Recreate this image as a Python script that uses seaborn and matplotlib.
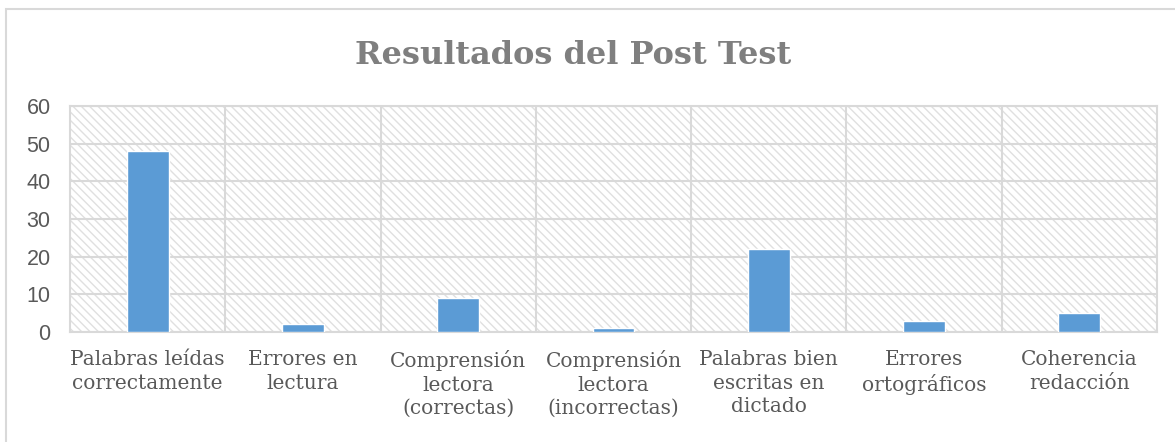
import matplotlib
matplotlib.use("Agg")
import matplotlib.pyplot as plt
import seaborn as sns
from matplotlib.patches import Rectangle

# Datos
categorias = [
    "Palabras leídas\ncorrectamente",
    "Errores en\nlectura",
    "Comprensión\nlectora\n(correctas)",
    "Comprensión\nlectora\n(incorrectas)",
    "Palabras bien\nescritas en\ndictado",
    "Errores\nortográficos",
    "Coherencia\nredacción",
]
valores = [48, 2, 9, 1, 22, 3, 5]
y_ticks = [0, 10, 20, 30, 40, 50, 60]

sns.set_style("white")
plt.rcParams["hatch.linewidth"] = 1.0

fig = plt.figure(figsize=(11.75, 4.42), dpi=100)
ax = fig.add_axes([70 / 1175, 1 - 332 / 442, (1157 - 70) / 1175, (332 - 106) / 442])

# fondo rayado del área de trazado
ax.add_patch(Rectangle((0, 0), 1, 1, transform=ax.transAxes, facecolor="none",
                       edgecolor="#e0e0e0", hatch="\\\\\\\\", lw=0, zorder=0))

sns.barplot(x=categorias, y=valores, color="#5b9bd5", width=0.27,
            saturation=1, ax=ax, zorder=3)

ax.set_xlim(-0.5, len(categorias) - 0.5)
ax.set_ylim(0, 60)
ax.set_yticks(y_ticks)
ax.set_xticks(range(len(categorias)))
ax.set_xticks([i + 0.5 for i in range(len(categorias) - 1)], minor=True)
ax.grid(axis="y", which="major", color="#d9d9d9", lw=1.5, zorder=1)
ax.grid(axis="x", which="minor", color="#d9d9d9", lw=1.5, zorder=1)
ax.grid(axis="x", which="major", visible=False)
ax.set_axisbelow(True)
ax.tick_params(which="both", length=0)
ax.tick_params(axis="y", pad=14)
ax.tick_params(axis="x", pad=13)

for lbl in ax.get_yticklabels():
    lbl.set_fontfamily("Liberation Sans")
    lbl.set_fontsize(15.5)
    lbl.set_color("#595959")
for lbl in ax.get_xticklabels():
    lbl.set_fontfamily("DejaVu Serif")
    lbl.set_fontsize(14.5)
    lbl.set_color("#595959")
    lbl.set_linespacing(1.3)

for s in ax.spines.values():
    s.set_color("#d9d9d9")
    s.set_linewidth(1.5)

# título y borde del gráfico
fig.text(573 / 1175, 1 - 55 / 442, "Resultados del Post Test", ha="center", va="center",
         fontsize=23, fontweight="bold", family="DejaVu Serif", color="#7f7f7f")
fig.patches.append(Rectangle((6 / 1175, -0.1), 1.2, 0.1 + 1 - 9 / 442,
                             transform=fig.transFigure, facecolor="none",
                             edgecolor="#d9d9d9", lw=1.5))

fig.savefig("out.png", dpi=100)
